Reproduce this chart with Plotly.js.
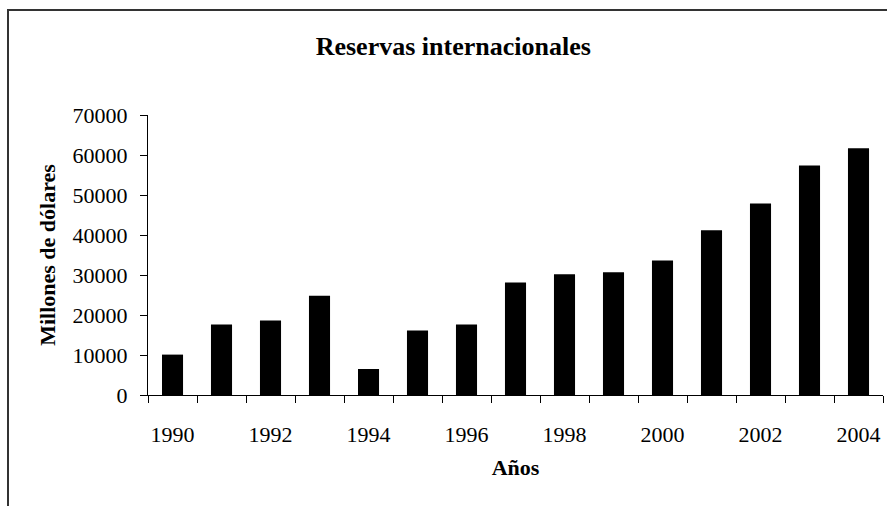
<!DOCTYPE html>
<html>
<head>
<meta charset="utf-8">
<script src="https://cdn.plot.ly/plotly-3.0.1.min.js"></script>
<style>
  html, body { margin: 0; padding: 0; background: #fff; overflow: hidden; }
  #chart { position: absolute; left: 0; top: 0; width: 887px; height: 506px; }
  #frame { position: absolute; left: 7px; top: 9px; width: 900px; height: 520px;
           border-left: 2px solid #333; border-top: 2px solid #333; pointer-events: none; }
</style>
</head>
<body>
<div id="chart"></div>
<div id="frame"></div>
<script>
const years = [1990, 1991, 1992, 1993, 1994, 1995, 1996, 1997, 1998, 1999, 2000, 2001, 2002, 2003, 2004];
const reserves = [10100, 17600, 18600, 24800, 6500, 16100, 17600, 28100, 30200, 30700, 33600, 41200, 47900, 57400, 61700];
const xTickVals = [1990, 1992, 1994, 1996, 1998, 2000, 2002, 2004];
const xTickText = ['1990', '1992', '1994', '1996', '1998', '2000', '2002', '2004'];
const titleText = 'Reservas internacionales';
const xTitle = 'Años';
const yTitle = 'Millones de dólares';

const serif = 'Liberation Serif, Times New Roman, serif';

const trace = {
  type: 'bar',
  x: years,
  y: reserves,
  marker: { color: '#000000', line: { width: 0 } },
  hoverinfo: 'x+y'
};

const layout = {
  width: 887,
  height: 506,
  margin: { l: 148, r: 4, t: 115, b: 111 },
  paper_bgcolor: '#ffffff',
  plot_bgcolor: '#ffffff',
  bargap: 0.57,
  showlegend: false,
  font: { family: serif, color: '#000', size: 22 },
  title: {
    text: '<b>' + titleText + '</b>',
    font: { family: serif, size: 26, color: '#000' },
    xref: 'container', x: 0.511, xanchor: 'center',
    yref: 'container', y: 1 - 46 / 506, yanchor: 'middle'
  },
  xaxis: {
    type: 'linear',
    range: [1989.5, 2004.5],
    tickmode: 'array',
    tickvals: xTickVals,
    ticktext: xTickText,
    ticks: '',
    ticklabelstandoff: 20,
    tickfont: { family: serif, size: 22, color: '#000' },
    showline: true, linecolor: '#000', linewidth: 1,
    showgrid: false, zeroline: false,
    minor: { tick0: 1989.5, dtick: 1, ticks: 'outside', ticklen: 7, tickcolor: '#000', tickwidth: 1, showgrid: false },
    title: { text: '<b>' + xTitle + '</b>', font: { family: serif, size: 22, color: '#000' }, standoff: 13 },
    fixedrange: true
  },
  yaxis: {
    range: [0, 70000],
    tickmode: 'linear', tick0: 0, dtick: 10000,
    tickformat: 'd',
    ticks: 'outside', ticklen: 7, tickcolor: '#000', tickwidth: 1,
    ticklabelstandoff: 8,
    tickfont: { family: serif, size: 22, color: '#000' },
    showline: true, linecolor: '#000', linewidth: 1,
    showgrid: false, zeroline: false,
    title: { text: '<b>' + yTitle + '</b>', font: { family: serif, size: 22, color: '#000' }, standoff: 10 },
    fixedrange: true
  }
};

Plotly.newPlot('chart', [trace], layout, { displayModeBar: false, staticPlot: true });
</script>
</body>
</html>
